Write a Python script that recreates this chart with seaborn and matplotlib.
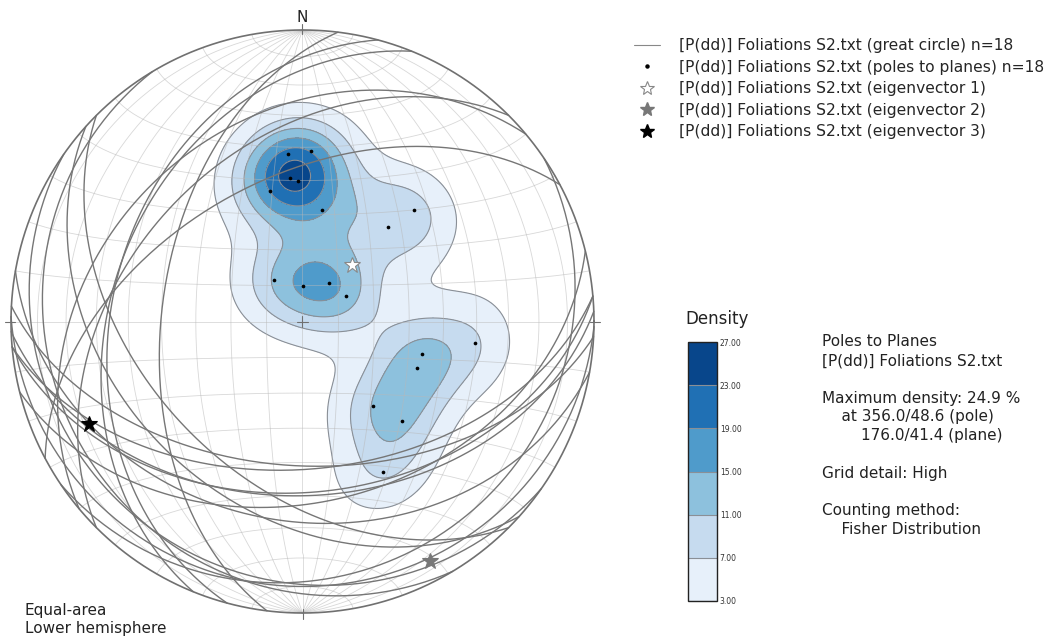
import numpy as np
import pandas as pd
import matplotlib

matplotlib.use("Agg")
import matplotlib.pyplot as plt
from matplotlib.lines import Line2D
import seaborn as sns

# --- data: planes (dip direction / dip) ---
dip_direction = [175, 183, 175, 178, 166, 190, 225, 222, 146,
                 181, 215, 239, 277, 285, 292, 320, 315, 332]
dip = [48, 49, 41, 40, 38, 32, 45, 36, 14,
       10, 13, 14, 50, 35, 35, 31, 40, 49]

# eigenvectors (trend / plunge)
eigen_trend = [41.2, 151.9, 244.3]
eigen_plunge = [69.1, 7.6, 19.8]
eigen_names = ["eigenvector 1", "eigenvector 2", "eigenvector 3"]

density_levels = [3, 7, 11, 15, 19, 23, 27]
max_density = 24.9
kappa = 38
dataset = "[P(dd)] Foliations S2.txt"


def line_vec(trend, plunge):
    tr, pl = np.radians(trend), np.radians(plunge)
    return np.cos(pl) * np.sin(tr), np.cos(pl) * np.cos(tr), np.sin(pl)


def project(e, n, d):
    # equal-area, lower hemisphere, primitive at radius 1
    e, n, d = np.asarray(e, float), np.asarray(n, float), np.asarray(d, float)
    flip = d < 0
    e, n, d = np.where(flip, -e, e), np.where(flip, -n, n), np.abs(d)
    theta = np.arccos(np.clip(d, -1, 1))
    trend = np.arctan2(e, n)
    rho = np.sqrt(2) * np.sin(theta / 2)
    return rho * np.sin(trend), rho * np.cos(trend)


def great_circle(dd, dp, npts=181):
    t = np.linspace(0, np.pi, npts)
    st = np.radians(dd - 90)
    s = np.array([np.sin(st), np.cos(st), 0.0])
    dv = np.array(line_vec(dd, dp))
    v = np.outer(np.cos(t), s) + np.outer(np.sin(t), dv)
    return project(v[:, 0], v[:, 1], v[:, 2])


sns.set_style("white")
plt.rcParams["font.family"] = ["DejaVu Sans"]

W, H = 1050, 641
fig = plt.figure(figsize=(W / 100, H / 100), dpi=100)
cx, cy, R = 302.5, 321.5, 291.5
ax = fig.add_axes([(cx - R * 1.05) / W, (H - cy - R * 1.05) / H, 2.1 * R / W, 2.1 * R / H])
ax.set_xlim(-1.05, 1.05)
ax.set_ylim(-1.05, 1.05)
ax.axis("off")

# --- density (Fisher kernel on the poles) ---
pole_trend = [(d + 180) % 360 for d in dip_direction]
pole_plunge = [90 - d for d in dip]
pe, pn, pd_ = line_vec(np.array(pole_trend), np.array(pole_plunge))
P = np.vstack([pe, pn, pd_]).T

g = np.linspace(-1, 1, 301)
X, Y = np.meshgrid(g, g)
rho = np.hypot(X, Y)
theta = 2 * np.arcsin(np.clip(rho, 0, 1) / np.sqrt(2))
tr = np.arctan2(X, Y)
V = np.stack([np.sin(theta) * np.sin(tr), np.sin(theta) * np.cos(tr), np.cos(theta)], -1)
cosang = np.abs(V @ P.T)
dens = np.exp(kappa * (cosang - 1)).sum(-1)
dens = dens / dens[rho <= 1].max() * max_density
dens = np.ma.masked_where(rho > 1.0, dens)

cmap = plt.get_cmap("Blues")
cf = ax.contourf(X, Y, dens, levels=density_levels, cmap=cmap, zorder=1)
cl = ax.contour(X, Y, dens, levels=density_levels[:-1], colors="#8a8f96",
                linewidths=0.8, zorder=2)

# --- Schmidt net grid ---
grid_kw = dict(color="#b8b8b8", lw=0.6, alpha=0.55, zorder=3)
phi = np.linspace(0, np.pi, 181)
for a in range(10, 171, 10):
    x, y = great_circle(90, a) if a <= 90 else great_circle(270, 180 - a)
    ax.plot(x, y, **grid_kw)
    al = np.radians(a)
    x, y = project(np.sin(al) * np.cos(phi), np.full_like(phi, np.cos(al)), np.sin(al) * np.sin(phi))
    ax.plot(x, y, **grid_kw)

# --- great circles of the planes ---
rows = []
for i, (dd, dp) in enumerate(zip(dip_direction, dip)):
    x, y = great_circle(dd, dp)
    rows.append(pd.DataFrame({"x": x, "y": y, "plane": i}))
gc = pd.concat(rows)
sns.lineplot(data=gc, x="x", y="y", units="plane", estimator=None, sort=False,
             color="#767676", lw=1.0, ax=ax, zorder=4, legend=False)

# --- poles ---
px, py = project(pe, pn, pd_)
sns.scatterplot(x=px, y=py, color="black", s=7, linewidth=0, ax=ax, zorder=6)

# --- eigenvectors ---
star_face = ["white", "#777777", "black"]
star_edge = ["#888888", "#777777", "black"]
for t, p, fc, ec in zip(eigen_trend, eigen_plunge, star_face, star_edge):
    ex, ey = project(*line_vec(t, p))
    ax.plot(ex, ey, marker="*", ms=12, mfc=fc, mec=ec, mew=0.8, zorder=7, ls="none")

# --- primitive, ticks ---
ang = np.linspace(0, 2 * np.pi, 721)
ax.plot(np.cos(ang), np.sin(ang), color="#707070", lw=1.2, zorder=8)
for a in [0, 90, 180, 270]:
    s, c = np.sin(np.radians(a)), np.cos(np.radians(a))
    ax.plot([0.985 * s, 1.02 * s], [0.985 * c, 1.02 * c], color="#707070", lw=0.8, zorder=8)
ax.plot([-0.02, 0.02], [0, 0], color="#707070", lw=0.8, zorder=8)
ax.plot([0, 0], [-0.02, 0.02], color="#707070", lw=0.8, zorder=8)

fig.text(cx / W, 1 - 18 / H, "N", ha="center", va="center", fontsize=11, color="#222222")
fig.text(25 / W, 1 - 619.5 / H, "Equal-area\nLower hemisphere", ha="left", va="center",
         fontsize=11, color="#222222", linespacing=1.25)

# --- legend ---
handles = [
    Line2D([], [], color="#888888", lw=0.8),
    Line2D([], [], ls="none", marker="o", ms=2.2, color="black"),
    Line2D([], [], ls="none", marker="*", ms=10, mfc="white", mec="#888888", mew=0.8),
    Line2D([], [], ls="none", marker="*", ms=10, mfc="#777777", mec="#777777"),
    Line2D([], [], ls="none", marker="*", ms=10, mfc="black", mec="black"),
]
labels = [f"{dataset} (great circle) n={len(dip)}",
          f"{dataset} (poles to planes) n={len(dip)}"] + [f"{dataset} ({n})" for n in eigen_names]
fig.legend(handles, labels, loc="upper left", bbox_to_anchor=(634 / W, 1 - 38 / H),
           frameon=False, fontsize=11.2, labelspacing=0.42, handlelength=1.7,
           handletextpad=1.2, borderaxespad=0, borderpad=0)

# --- colorbar ---
cax = fig.add_axes([688 / W, (H - 601) / H, 29 / W, 259 / H])
cb = fig.colorbar(cf, cax=cax, ticks=density_levels, format="%.2f")
cb.add_lines(cl)
cax.tick_params(length=0, labelsize=5.5, pad=2, colors="#333333")
cb.outline.set_linewidth(1.0)
cb.outline.set_edgecolor("#222222")
fig.text(685 / W, 1 - 319 / H, "Density", ha="left", va="center", fontsize=12, color="#222222")

info = ("Poles to Planes\n" + dataset + "\n\n"
        "Maximum density: 24.9 %\n"
        "    at 356.0/48.6 (pole)\n"
        "        176.0/41.4 (plane)\n\n"
        "Grid detail: High\n\n"
        "Counting method:\n"
        "    Fisher Distribution")
fig.text(822 / W, 1 - 334.5 / H, info, ha="left", va="top", fontsize=11,
         color="#222222", linespacing=1.31)

fig.savefig("out.png", dpi=100)
